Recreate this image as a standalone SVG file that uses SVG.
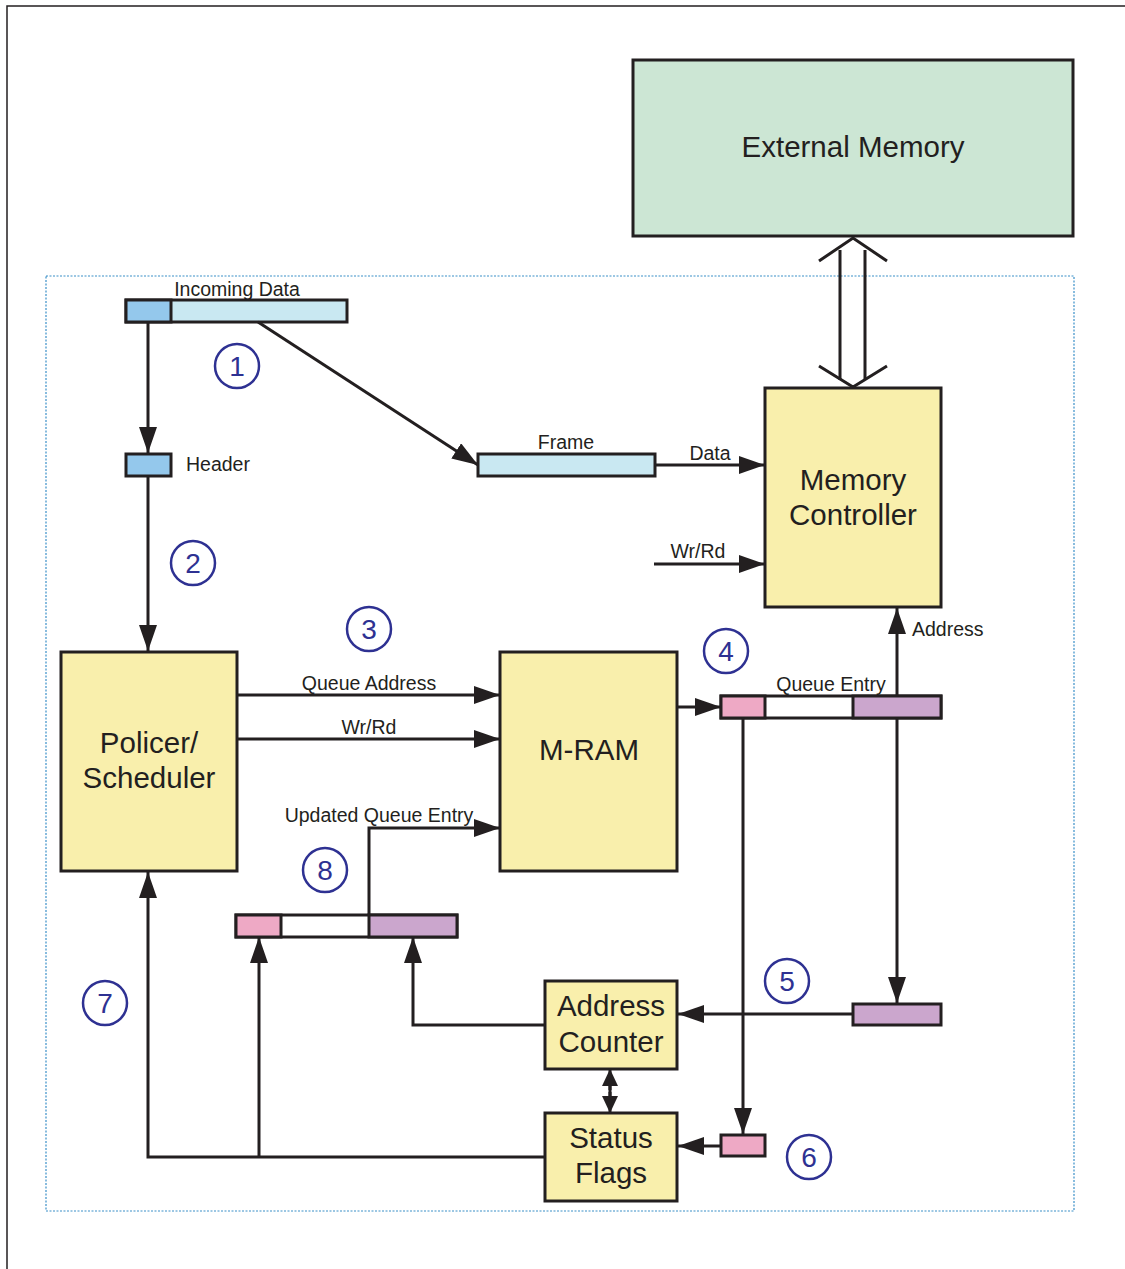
<svg xmlns="http://www.w3.org/2000/svg" width="1125" height="1269" viewBox="0 0 1125 1269">
<defs>
<marker id="ah" markerUnits="userSpaceOnUse" markerWidth="28" markerHeight="20" refX="26" refY="9" orient="auto">
<path d="M0,0 L26,9 L0,18 Z" fill="#231f20"/>
</marker>
<marker id="ahs" markerUnits="userSpaceOnUse" markerWidth="20" markerHeight="18" refX="17" refY="8" orient="auto">
<path d="M0,0 L17,8 L0,16 Z" fill="#231f20"/>
</marker>
<style>
.box{stroke:#231f20;stroke-width:3}
.yel{fill:#f9efac}
.lbl{font-family:"Liberation Sans",Arial,sans-serif;font-size:19.5px;fill:#231f20}
.big{font-family:"Liberation Sans",Arial,sans-serif;font-size:29.5px;fill:#231f20;text-anchor:middle}
.ln{stroke:#231f20;stroke-width:3;fill:none}
.num circle{fill:none;stroke:#2e3192;stroke-width:2.5}
.num text{font-family:"Liberation Sans",Arial,sans-serif;font-size:28px;fill:#2e3192;text-anchor:middle}
</style>
</defs>
<rect width="1125" height="1269" fill="#fff"/>
<rect x="7" y="6" width="1130" height="1280" fill="none" stroke="#231f20" stroke-width="1.5"/>
<rect x="46" y="276" width="1028" height="935" fill="none" stroke="#3a8fc8" stroke-width="1.2" stroke-dasharray="2,1.5"/>

<g id="external-memory">
<rect class="box" x="633" y="60" width="440" height="176" fill="#cce6d4"/>
<text class="big" x="853" y="157">External Memory</text>
</g>

<g id="memory-controller">
<rect class="box yel" x="765" y="388" width="176" height="219"/>
<text class="big" x="853" y="490">Memory</text>
<text class="big" x="853" y="525">Controller</text>
</g>

<g id="policer-scheduler">
<rect class="box yel" x="61" y="652" width="176" height="219"/>
<text class="big" x="149" y="753">Policer/</text>
<text class="big" x="149" y="788">Scheduler</text>
</g>

<g id="m-ram">
<rect class="box yel" x="500" y="652" width="177" height="219"/>
<text class="big" x="589" y="760">M-RAM</text>
</g>

<g id="address-counter">
<rect class="box yel" x="545" y="981" width="132" height="88"/>
<text class="big" x="611" y="1016">Address</text>
<text class="big" x="611" y="1052">Counter</text>
</g>

<g id="status-flags">
<rect class="box yel" x="545" y="1113" width="132" height="88"/>
<text class="big" x="611" y="1148">Status</text>
<text class="big" x="611" y="1183">Flags</text>
</g>

<g id="incoming-data">
<rect class="box" x="126" y="300" width="221" height="22" fill="#c9e8f2"/>
<rect class="box" x="126" y="300" width="45" height="22" fill="#94c8ec"/>
<text class="lbl" x="237" y="296" text-anchor="middle">Incoming Data</text>
</g>

<g id="header">
<rect class="box" x="126" y="454" width="45" height="22" fill="#94c8ec"/>
<text class="lbl" x="186" y="471">Header</text>
</g>

<g id="frame">
<rect class="box" x="478" y="454" width="177" height="22" fill="#c9e8f2"/>
<text class="lbl" x="566" y="449" text-anchor="middle">Frame</text>
</g>

<g id="queue-entry">
<rect class="box" x="721" y="696" width="220" height="22" fill="#fff"/>
<rect class="box" x="721" y="696" width="44" height="22" fill="#eea9c5"/>
<rect class="box" x="853" y="696" width="88" height="22" fill="#cba6cd"/>
<text class="lbl" x="831" y="691" text-anchor="middle">Queue Entry</text>
</g>

<g id="updated-queue-entry">
<rect class="box" x="236" y="915" width="221" height="22" fill="#fff"/>
<rect class="box" x="236" y="915" width="45" height="22" fill="#eea9c5"/>
<rect class="box" x="369" y="915" width="88" height="22" fill="#cba6cd"/>
</g>

<g id="address-field">
<rect class="box" x="853" y="1004" width="88" height="21" fill="#cba6cd"/>
</g>

<g id="flag-field">
<rect class="box" x="721" y="1135" width="44" height="21" fill="#eea9c5"/>
</g>

<g id="connectors">
<path class="ln" d="M840,250 V380 M865,250 V380"/>
<path class="ln" d="M819,261 L853,238 L887,261"/>
<path class="ln" d="M819,366 L853,387 L887,366"/>
<line class="ln" x1="148" y1="322" x2="148" y2="453" marker-end="url(#ah)"/>
<line class="ln" x1="258" y1="322" x2="478" y2="465" marker-end="url(#ah)"/>
<line class="ln" x1="148" y1="476" x2="148" y2="651" marker-end="url(#ah)"/>
<line class="ln" x1="655" y1="465" x2="765" y2="465" marker-end="url(#ah)"/>
<text class="lbl" x="710" y="460" text-anchor="middle">Data</text>
<line class="ln" x1="654" y1="564" x2="765" y2="564" marker-end="url(#ah)"/>
<text class="lbl" x="698" y="558" text-anchor="middle">Wr/Rd</text>
<line class="ln" x1="237" y1="695" x2="500" y2="695" marker-end="url(#ah)"/>
<text class="lbl" x="369" y="690" text-anchor="middle">Queue Address</text>
<line class="ln" x1="237" y1="739" x2="500" y2="739" marker-end="url(#ah)"/>
<text class="lbl" x="369" y="734" text-anchor="middle">Wr/Rd</text>
<path class="ln" d="M369,914 V828 H500" marker-end="url(#ah)"/>
<text class="lbl" x="379" y="822" text-anchor="middle">Updated Queue Entry</text>
<line class="ln" x1="677" y1="707" x2="721" y2="707" marker-end="url(#ah)"/>
<line class="ln" x1="897" y1="696" x2="897" y2="608" marker-end="url(#ah)"/>
<text class="lbl" x="912" y="636">Address</text>
<line class="ln" x1="743" y1="718" x2="743" y2="1134" marker-end="url(#ah)"/>
<line class="ln" x1="897" y1="718" x2="897" y2="1003" marker-end="url(#ah)"/>
<line class="ln" x1="853" y1="1014" x2="678" y2="1014" marker-end="url(#ah)"/>
<line class="ln" x1="721" y1="1146" x2="678" y2="1146" marker-end="url(#ah)"/>
<line class="ln" x1="610" y1="1080" x2="610" y2="1102"/>
<line class="ln" x1="610" y1="1090" x2="610" y2="1069" marker-end="url(#ahs)"/>
<line class="ln" x1="610" y1="1092" x2="610" y2="1113" marker-end="url(#ahs)"/>
<path class="ln" d="M545,1025 H413 V937" marker-end="url(#ah)"/>
<path class="ln" d="M545,1157 H148 V872" marker-end="url(#ah)"/>
<line class="ln" x1="259" y1="1157" x2="259" y2="937" marker-end="url(#ah)"/>
</g>

<g class="num" id="step-1"><circle cx="237" cy="366" r="22"/><text x="237" y="376">1</text></g>
<g class="num" id="step-2"><circle cx="193" cy="563" r="22"/><text x="193" y="573">2</text></g>
<g class="num" id="step-3"><circle cx="369" cy="629" r="22"/><text x="369" y="639">3</text></g>
<g class="num" id="step-4"><circle cx="726" cy="651" r="22"/><text x="726" y="661">4</text></g>
<g class="num" id="step-5"><circle cx="787" cy="981" r="22"/><text x="787" y="991">5</text></g>
<g class="num" id="step-6"><circle cx="809" cy="1157" r="22"/><text x="809" y="1167">6</text></g>
<g class="num" id="step-7"><circle cx="105" cy="1003" r="22"/><text x="105" y="1013">7</text></g>
<g class="num" id="step-8"><circle cx="325" cy="870" r="22"/><text x="325" y="880">8</text></g>
</svg>
